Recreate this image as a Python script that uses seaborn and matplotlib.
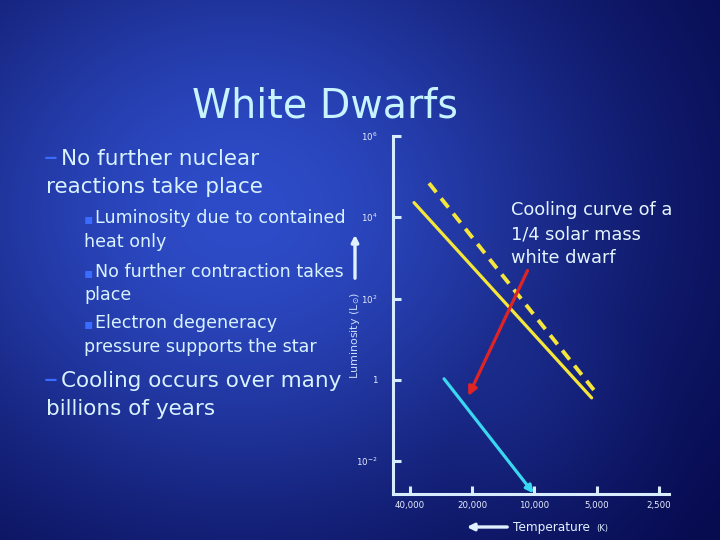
import numpy as np
import matplotlib
matplotlib.use("Agg")
import matplotlib.pyplot as plt
import seaborn as sns

sns.set_style("ticks")
plt.rcParams['font.family'] = ['DejaVu Sans']

# values
x_ticks = [40000, 20000, 10000, 5000, 2500]
x_tick_labels = ['40,000', '20,000', '10,000', '5,000', '2,500']
y_ticks = [1e-2, 1, 1e2, 1e4, 1e6]
y_tick_labels = [r'$10^{-2}$', '1', r'$10^{2}$', r'$10^{4}$', r'$10^{6}$']

solid_T = [38300, 5290]
solid_L = [2.3e4, 0.36]
dashed_T = [32400, 4890]
dashed_L = [6.9e4, 0.40]
red_T = [10800, 20900]
red_L = [490, 0.40]
cyan_T = [27400, 10100]
cyan_L = [1.06, 0.0016]

note_lines = ['Cooling curve of a', '1/4 solar mass', 'white dwarf']

W, H = 720, 540
def px(x, y):
    return x / W, 1 - y / H

fig = plt.figure(figsize=(7.2, 5.4), dpi=100)

#background gradient
bg = fig.add_axes([0, 0, 1, 1])
yy, xx = np.mgrid[0:H, 0:W]
g = np.exp(-((xx - 240) ** 2 / (2 * 270.0 ** 2) + (yy - 210) ** 2 / (2 * 230.0 ** 2)))
g2 = 0.55 * np.exp(-((xx - 470) ** 2 / (2 * 150.0 ** 2) + (yy - 330) ** 2 / (2 * 170.0 ** 2)))
g = np.clip(np.maximum(g, g2), 0, 1)
dark = np.array([0x04, 0x06, 0x46]) / 255
bright = np.array([0x2e, 0x4c, 0xc8]) / 255
img = dark + (bright - dark) * g[..., None]
bg.imshow(img, extent=[0, 1, 0, 1], aspect='auto')
bg.set_axis_off()

#chart
ax = fig.add_axes([393 / W, 1 - 494 / H, (669 - 393) / W, (494 - 136) / H])
ax.set_facecolor('none')
ax.set_xscale('log')
ax.set_yscale('log')

sns.lineplot(x=solid_T, y=solid_L, ax=ax, color='#f4e63a', lw=2.3, sort=False)
sns.lineplot(x=dashed_T, y=dashed_L, ax=ax, color='#f4e63a', lw=2.8, sort=False,
             linestyle=(0, (3, 2)))
ax.annotate('', xy=(red_T[1], red_L[1]), xytext=(red_T[0], red_L[0]),
            arrowprops=dict(arrowstyle='-|>', color='#e02424', lw=2.3,
                            mutation_scale=13, shrinkA=0, shrinkB=0))
ax.annotate('', xy=(cyan_T[1], cyan_L[1]), xytext=(cyan_T[0], cyan_L[0]),
            arrowprops=dict(arrowstyle='-|>', color='#3ad8f0', lw=2.3,
                            mutation_scale=11, shrinkA=0, shrinkB=0))

ax.set_xlim(48400, 2233)
ax.set_ylim(10 ** -2.81, 1e6)
ax.set_xticks(x_ticks)
ax.set_xticklabels(x_tick_labels)
ax.set_yticks(y_ticks)
ax.set_yticklabels(y_tick_labels)
ax.minorticks_off()

axis_col = '#d8ecff'
for s in ['top', 'right']:
    ax.spines[s].set_visible(False)
for s in ['left', 'bottom']:
    ax.spines[s].set_color(axis_col)
    ax.spines[s].set_linewidth(2.2)
ax.tick_params(axis='both', direction='in', length=6, width=2.2, color=axis_col,
               labelcolor='#e8eeff', labelsize=6.2)
ax.tick_params(axis='y', pad=11)
ax.tick_params(axis='x', pad=5)

for i, s in enumerate(note_lines):
    fig.text(*px(511, 215 + 24 * i), s, color='#e4f4ff', fontsize=12.8,
             va='baseline', ha='left')

#axis labels with arrows
fig.text(*px(355, 335), r'Luminosity (L$_{\odot}$)', rotation=90, color='#c8dcff',
         fontsize=8, ha='center', va='center')
fig.add_artist(matplotlib.patches.FancyArrowPatch(px(355, 281), px(355, 232),
               transform=fig.transFigure, arrowstyle='-|>', mutation_scale=10,
               color='#e0f0ff', lw=2.4))
fig.text(*px(513, 531), 'Temperature', color='#e0f0ff', fontsize=8.7,
         ha='left', va='baseline')
fig.text(*px(596, 531), '(K)', color='#e0f0ff', fontsize=6,
         ha='left', va='baseline')
fig.add_artist(matplotlib.patches.FancyArrowPatch(px(510, 527), px(464, 527),
               transform=fig.transFigure, arrowstyle='-|>', mutation_scale=10,
               color='#e0f0ff', lw=2.4))

#slide text
txt_col = '#d8f2ff'
fig.text(*px(325, 117), 'White Dwarfs', color='#c8f4ff', fontsize=28.5,
         ha='center', va='baseline')

dash_col = '#3a6cff'
body = [
    (1, 165, 'No further nuclear'),
    (0, 193, 'reactions take place'),
    (2, 223, 'Luminosity due to contained'),
    (0, 247, 'heat only'),
    (2, 277, 'No further contraction takes'),
    (0, 300, 'place'),
    (2, 328, 'Electron degeneracy'),
    (0, 352, 'pressure supports the star'),
    (1, 387, 'Cooling occurs over many'),
    (0, 415, 'billions of years'),
]
level = 1
for kind, y, s in body:
    if kind == 1:
        level = 1
        fig.text(*px(44, y + 1), '\u2013', color=dash_col, fontsize=20, va='baseline')
        fig.text(*px(61, y), s, color=txt_col, fontsize=15.5, va='baseline')
    elif kind == 2:
        level = 2
        fig.text(*px(84, y), '\u25aa', color=dash_col, fontsize=10, va='baseline')
        fig.text(*px(95, y), s, color=txt_col, fontsize=12.6, va='baseline')
    else:
        if level == 1:
            fig.text(*px(46, y), s, color=txt_col, fontsize=15.5, va='baseline')
        else:
            fig.text(*px(84, y), s, color=txt_col, fontsize=12.6, va='baseline')

fig.savefig('out.png', dpi=100)
